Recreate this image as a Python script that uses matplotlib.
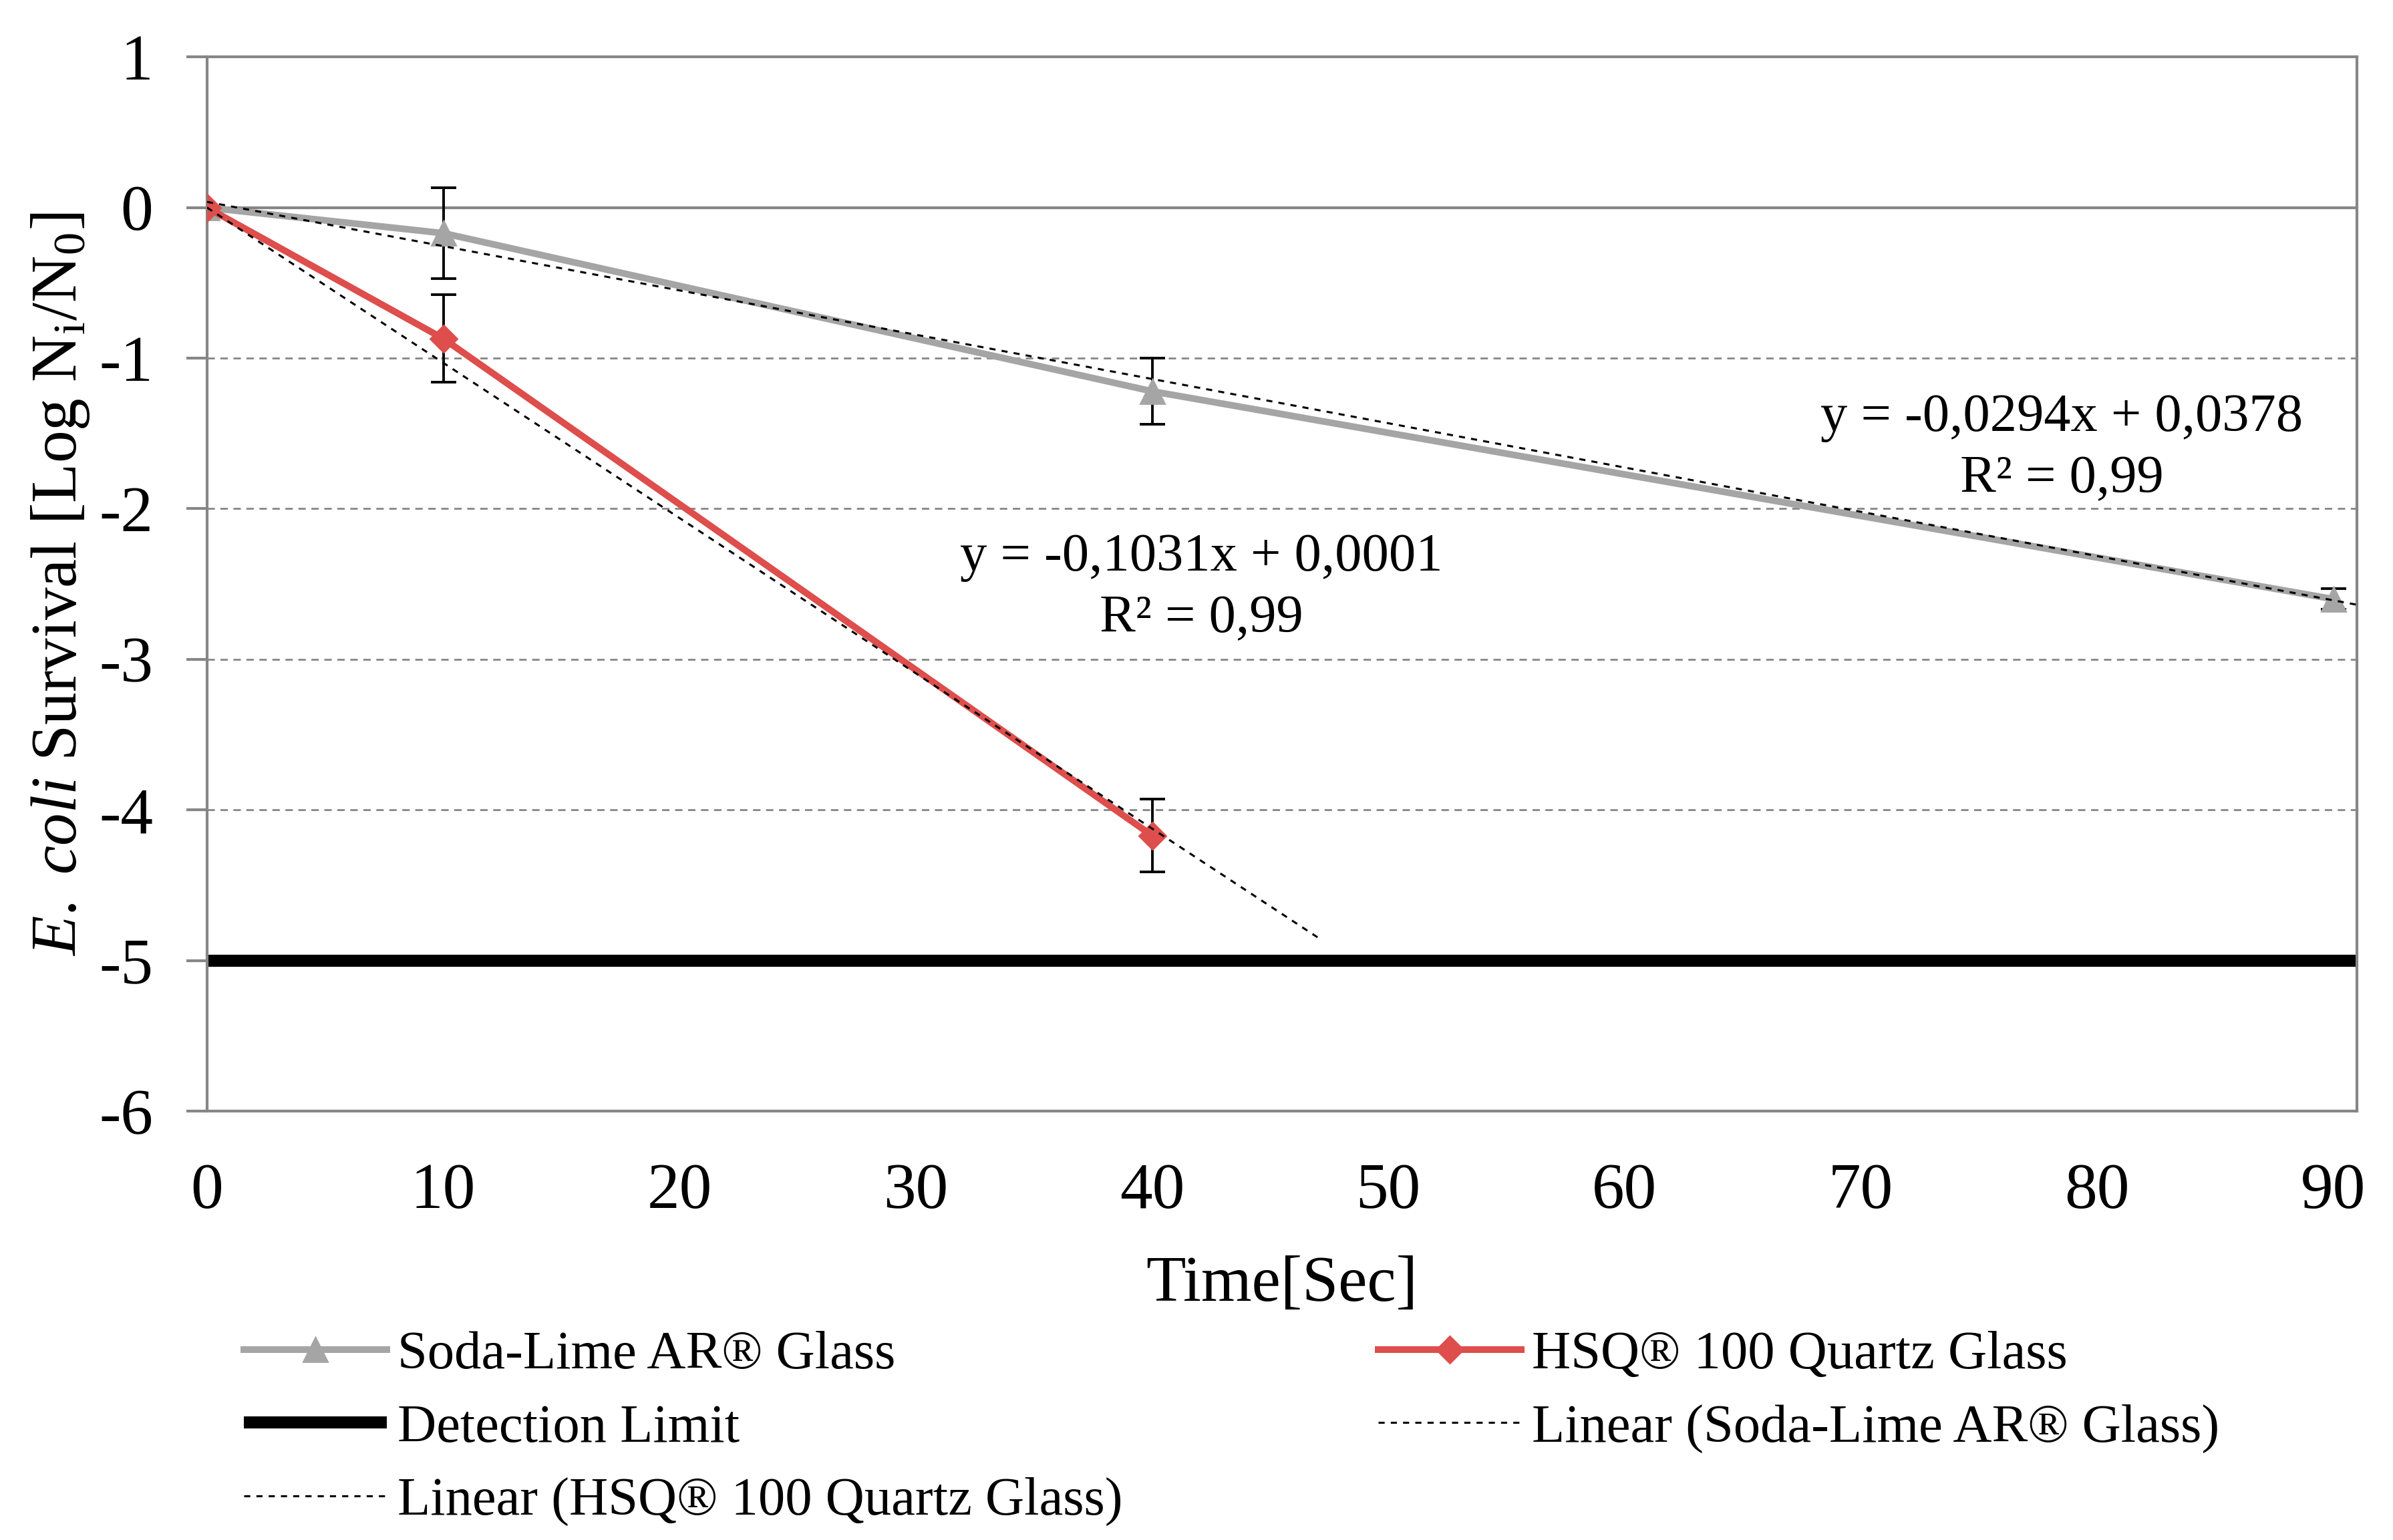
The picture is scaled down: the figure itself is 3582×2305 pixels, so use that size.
import matplotlib
matplotlib.use("Agg")
import matplotlib.pyplot as plt
import numpy as np

plt.rcParams['font.family'] = ['Liberation Serif', 'DejaVu Serif']
plt.rcParams['mathtext.fontset'] = 'custom'
plt.rcParams['mathtext.rm'] = 'Liberation Serif'
plt.rcParams['mathtext.it'] = 'Liberation Serif:italic'
plt.rcParams['axes.unicode_minus'] = False

# data
time_soda = [0, 10, 40, 90]
surv_soda = [0.0, -0.17, -1.22, -2.60]
err_soda = [0.0, 0.30, 0.22, 0.07]

time_hsq = [0, 10, 40]
surv_hsq = [0.0, -0.87, -4.17]
err_hsq = [0.0, 0.29, 0.24]

detection_limit = -5
# trend lines (from the chart labels)
fit_soda = (-0.0294, 0.0378)
fit_hsq = (-0.1031, 0.0001)
fit_soda_x = [0, 91]
fit_hsq_x = [0, 47]

x_ticks = [0, 10, 20, 30, 40, 50, 60, 70, 80, 90]
y_ticks = [1, 0, -1, -2, -3, -4, -5, -6]

gray = '#a5a5a5'
red = '#dd4e4c'
axis_gray = '#868686'

fig = plt.figure(figsize=(17.91, 11.525), dpi=200)
ax = fig.add_axes([0.0865, 0.2785, 0.8985, 0.6845])

for yv in [-1, -2, -3, -4, -5]:
    ax.axhline(yv, color=axis_gray, lw=1.0, ls=(0, (4, 3)), zorder=1)
ax.axhline(0, color=axis_gray, lw=1.5, zorder=1)

det, = ax.plot([0, 91], [detection_limit, detection_limit], color='black', lw=6.5,
               solid_capstyle='butt', zorder=2, label='Detection Limit')

ax.errorbar(time_soda, surv_soda, yerr=err_soda, fmt='none', ecolor='black',
            elinewidth=1.4, capsize=7, capthick=1.4, zorder=3)
ax.errorbar(time_hsq, surv_hsq, yerr=err_hsq, fmt='none', ecolor='black',
            elinewidth=1.4, capsize=7, capthick=1.4, zorder=3)

soda, = ax.plot(time_soda, surv_soda, color=gray, lw=3.6, marker='^', ms=13,
                zorder=4, label='Soda-Lime AR® Glass')
hsq, = ax.plot(time_hsq, surv_hsq, color=red, lw=3.6, marker='D', ms=10,
               zorder=5, label='HSQ® 100 Quartz Glass')

xs = np.array(fit_soda_x)
lin_soda, = ax.plot(xs, fit_soda[0] * xs + fit_soda[1], color='black', lw=1.1,
                    ls=(0, (3, 3)), zorder=6, label='Linear (Soda-Lime AR® Glass)')
xh = np.array(fit_hsq_x)
lin_hsq, = ax.plot(xh, fit_hsq[0] * xh + fit_hsq[1], color='black', lw=1.1,
                   ls=(0, (3, 3)), zorder=6, label='Linear (HSQ® 100 Quartz Glass)')

ax.text(42.1, -2.53, 'y = -0,1031x + 0,0001\nR² = 0,99', ha='center', va='center',
        fontsize=29, linespacing=1.35)
ax.text(78.5, -1.6, 'y = -0,0294x + 0,0378\nR² = 0,99', ha='center', va='center',
        fontsize=29, linespacing=1.35)

ax.set_xlim(0, 91)
ax.set_ylim(-6, 1)
ax.set_xticks(x_ticks)
ax.set_yticks(y_ticks)
ax.tick_params(axis='x', length=0, pad=28, labelsize=35)
ax.tick_params(axis='y', length=11, width=1.5, color=axis_gray, pad=18, labelsize=35)
for s in ax.spines.values():
    s.set_color(axis_gray)
    s.set_linewidth(1.5)

ax.set_xlabel('Time[Sec]', fontsize=35, labelpad=18)
ax.set_ylabel(r'$\mathit{E.\ coli}$ Survival [Log N$_\mathrm{i}$/N$_0$]', fontsize=35, labelpad=4)

handles = [soda, det, lin_hsq, hsq, lin_soda]
fig.legend(handles=handles, labels=[h.get_label() for h in handles], ncol=2,
           loc='upper left', bbox_to_anchor=(0.102, 0.136), frameon=False,
           fontsize=29, handlelength=2.65, handletextpad=0.2, columnspacing=4.75,
           labelspacing=0.45, borderaxespad=0, borderpad=0)

fig.savefig('out.png', dpi=200)
